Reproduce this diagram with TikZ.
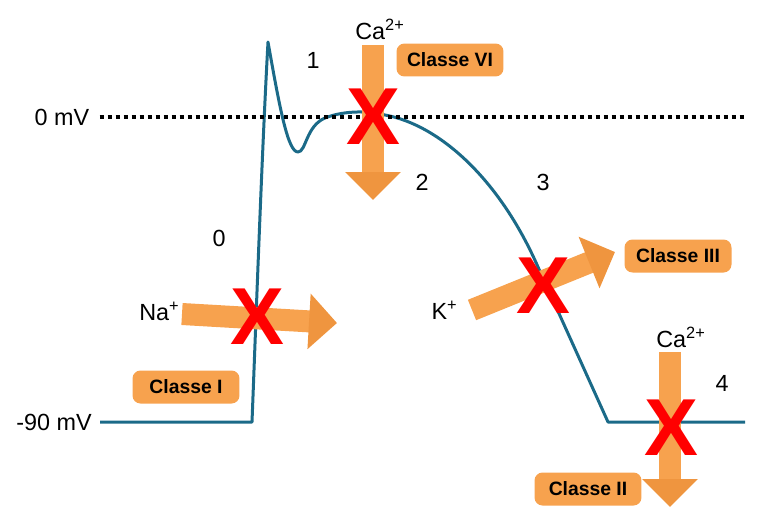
\documentclass[tikz,border=0pt]{standalone}
\usepackage{fontspec}
\setmainfont{Liberation Sans}
\usetikzlibrary{arrows.meta, positioning}
\definecolor{curveblue}{RGB}{27,106,136}
\definecolor{boxorange}{RGB}{247,162,78}
\definecolor{headorange}{RGB}{239,149,63}
\definecolor{blockred}{RGB}{255,0,0}
\tikzset{
    labelnode/.style = {draw=none, fill=none, rectangle, inner sep=0em, font=\fontsize{13.3}{15}\selectfont},
    classnode/.style = {draw=none, fill=boxorange, rectangle, rounded corners=0.16cm, inner sep=0em,
      minimum width=2.14cm, minimum height=0.66cm, font=\fontsize{11}{13}\selectfont\bfseries},
    blocknode/.style = {draw=none, fill=none, text=blockred, inner sep=0em,
      font=\fontsize{46}{50}\selectfont\bfseries},
    ionflow/.style = {draw=boxorange, line width=0.44cm,
      -{Triangle[width=1.08cm, length=0.56cm, color=headorange]}},
    potential/.style = {curveblue, line width=0.06cm, line join=round},
    zeroline/.style = {black, line width=0.08cm, dash pattern=on 0.08cm off 0.08cm}
}

\begin{document}
\begin{tikzpicture}[x=0.02cm, y=-0.02cm]
    \useasboundingbox (0,0) rectangle (777,521);

    % membrane potential levels
    \node [labelnode, name=zeromV] at (62,117) {0 mV};
    \node [labelnode, name=restmV] at (54,422) {-90 mV};
    \coordinate (zeroEnd) at (745,117);

    % action potential
    \draw [potential] (100,422) -- (252,422)
        .. controls (256,320) and (262,150) .. (268,42)
        .. controls (280,110) and (288,152) .. (298,152)
        .. controls (306,152) and (306,126) .. (325,118)
        .. controls (345,110) and (370,111) .. (385,115)
        .. controls (440,125) and (500,180) .. (538,267)
        -- (608,422) -- (745,422);
    \draw [zeroline, shorten <=0.2cm] (zeromV.east) -- (zeroEnd);

    % phases
    \node [labelnode, name=phase0] at (219,238) {0};
    \node [labelnode, name=phase1] at (313,60) {1};
    \node [labelnode, name=phase2] at (422,182) {2};
    \node [labelnode, name=phase3] at (543,182) {3};
    \node [labelnode, name=phase4] at (722,383) {4};

    % ion currents
    \coordinate (caTopTail) at (373,45);
    \coordinate (caTopTip) at (373,200);
    \coordinate (naTail) at (182,314);
    \coordinate (naTip) at (337,323);
    \coordinate (kTail) at (472,310);
    \coordinate (kTip) at (615,252);
    \coordinate (caLowTail) at (670,352);
    \coordinate (caLowTip) at (670,507);

    \draw [ionflow] (caTopTail) -- (caTopTip);
    \draw [ionflow] (naTail) -- (naTip);
    \draw [ionflow] (kTail) -- (kTip);
    \draw [ionflow] (caLowTail) -- (caLowTip);

    \node [labelnode, name=caTop, above=0.1cm of caTopTail, xshift=0.14cm] {Ca\textsuperscript{2+}};
    \node [labelnode, name=na, left=0.04cm of naTail, yshift=0.06cm] {Na\textsuperscript{+}};
    \node [labelnode, name=k, left=0.28cm of kTail] {K\textsuperscript{+}};
    \node [labelnode, name=caLow, above=0.08cm of caLowTail, xshift=0.22cm] {Ca\textsuperscript{2+}};

    % blockers
    \node [blocknode, name=xCaTop] at (373,117) {X};
    \node [blocknode, name=xNa] at (257,317) {X};
    \node [blocknode, name=xK] at (543,286) {X};
    \node [blocknode, name=xCaLow] at (671,428) {X};

    % drug classes
    \node [classnode, name=classVI] at (450,60) {Classe VI};
    \node [classnode, name=classI] at (186,387) {Classe I};
    \node [classnode, name=classIII] at (678,256) {Classe III};
    \node [classnode, name=classII] at (588,489) {Classe II};
\end{tikzpicture}
\end{document}
